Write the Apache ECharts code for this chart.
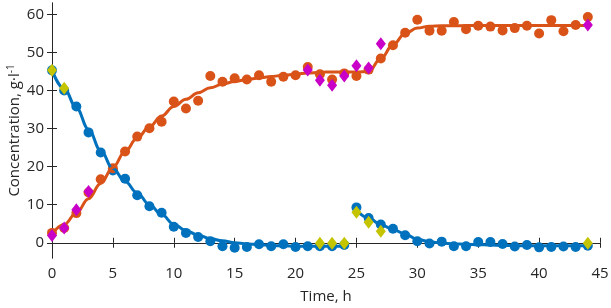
<!DOCTYPE html>
<html>
<head>
<meta charset="utf-8">
<script src="https://cdn.jsdelivr.net/npm/echarts@6/dist/echarts.min.js"></script>
<style>
  html, body { margin: 0; padding: 0; background: #fff; }
  #main { width: 611px; height: 308px; }
</style>
</head>
<body>
<div id="main"></div>
<script>
// measured points, hours
const hours1 = [0,1,2,3,4,5,6,7,8,9,10,11,12,13,14,15,16,17,18,19,20,21,22,23,24];
const hours2 = [25,26,27,28,29,30,31,32,33,34,35,36,37,38,39,40,41,42,43,44];
const hoursAll = hours1.concat(hours2);

// substrate (blue circles)
const substrate1 = [45.3,40.0,35.8,29.0,23.7,19.0,16.8,12.5,9.6,7.9,4.2,2.6,1.5,0.4,-0.9,-1.3,-1.1,-0.4,-0.9,-0.4,-1.1,-0.9,-0.9,-0.9,-0.6];
const substrate2 = [9.3,6.5,4.8,3.7,2.0,0.4,-0.2,0.3,-0.9,-0.9,0.2,0.2,-0.3,-1.0,-0.6,-1.2,-1.1,-1.0,-1.1,-0.8];

// product (orange circles)
const product = [2.6,3.9,7.8,13.2,16.7,19.6,24.0,27.9,30.1,31.8,37.1,35.3,37.3,43.8,42.3,43.2,42.9,44.0,42.3,43.6,44.0,46.2,44.3,42.9,44.5,43.8,45.5,48.4,51.9,55.2,58.6,55.7,55.7,58.0,56.1,57.0,56.8,55.8,56.4,57.0,55.0,58.5,55.6,57.2,59.3];

// fitted curves
const substrateFit1 = [45.3,40.5,35.5,29.8,24.2,19.5,16.1,13.1,10.0,7.4,4.9,3.2,2.0,1.1,0.5,0.0,-0.3,-0.5,-0.7,-0.8,-0.9,-0.9,-0.9,-0.9,-0.9];
const substrateFit2 = [8.6,6.5,4.8,3.5,2.3,0.9,0.3,-0.1,-0.3,-0.4,-0.5,-0.6,-0.7,-0.7,-0.8,-0.8,-0.8,-0.8,-0.8,-0.8];
const productFit = [2.3,4.8,7.8,11.6,15.6,19.8,24.0,27.5,30.5,33.3,35.8,37.7,39.4,40.7,41.7,42.4,42.9,43.3,43.7,44.0,44.3,44.6,44.8,44.9,44.9,44.9,45.0,48.4,52.0,55.0,56.4,56.9,57.0,57.0,57.1,57.1,57.1,57.1,57.1,57.1,57.1,57.1,57.1,57.1,57.1];

// second set of measurements (diamonds)
const productCheckHours = [0,1,2,3,21,22,23,24,25,26,27,44];
const productCheck = [1.9,3.9,8.7,13.5,45.4,42.7,41.4,43.8,46.5,45.9,52.3,57.2];
const substrateCheckHours = [0,1,22,23,24,25,26,27,44];
const substrateCheck = [45.3,40.6,-0.1,-0.1,-0.1,8.0,5.4,3.0,-0.1];

const yTicks = [0,10,20,30,40,50,60];

const blue = '#0072BD';
const orange = '#D95319';
const magenta = '#C800C8';
const olive = '#C4C400';
const axisColor = '#262626';
const font = 'Open Sans';

function pairs(xs, ys) {
    return xs.map((x, i) => [x, ys[i]]);
}

let myChart = echarts.init(document.getElementById('main'));

let option = {
    animation: false,
    grid: { left: 52, right: 11, top: 3, bottom: 50, outerBoundsMode: 'none', containLabel: false },
    xAxis: [
        {
            type: 'value', min: 0, max: 45, interval: 5,
            name: 'Time, h', nameLocation: 'middle', nameGap: 31, nameMoveOverlap: false,
            nameTextStyle: { fontFamily: font, fontSize: 15, color: axisColor },
            axisLine: { lineStyle: { color: axisColor, width: 1 } },
            axisTick: { inside: true, length: 5, lineStyle: { color: axisColor } },
            axisLabel: { fontFamily: font, fontSize: 15, color: axisColor, margin: 8 },
            splitLine: { show: false }
        },
        {
            type: 'value', min: 0, max: 45, interval: 5, position: 'top',
            axisLine: { lineStyle: { color: axisColor, width: 1 } },
            axisTick: { inside: true, length: 5, lineStyle: { color: axisColor } },
            axisLabel: { show: false },
            splitLine: { show: false }
        }
    ],
    yAxis: [
        {
            type: 'value', min: -4, max: 63,
            name: '{n|Concentration, g·l}{s|-1}', nameLocation: 'middle', nameGap: 28, nameMoveOverlap: false,
            nameTextStyle: {
                rich: {
                    n: { fontFamily: font, fontSize: 15, color: axisColor },
                    s: { fontFamily: font, fontSize: 10, color: axisColor, verticalAlign: 'top', padding: [0, 0, 8, 0] }
                }
            },
            axisLine: { lineStyle: { color: axisColor, width: 1 } },
            axisTick: { inside: true, length: 5, customValues: yTicks, lineStyle: { color: axisColor } },
            axisLabel: { fontFamily: font, fontSize: 15, color: axisColor, margin: 8, customValues: yTicks },
            splitLine: { show: false }
        },
        {
            type: 'value', min: -4, max: 63, position: 'right',
            axisLine: { show: true, lineStyle: { color: axisColor, width: 1 } },
            axisTick: { show: true, inside: true, length: 5, customValues: yTicks, lineStyle: { color: axisColor } },
            axisLabel: { show: false },
            splitLine: { show: false }
        }
    ],
    series: [
        {
            type: 'scatter', data: pairs(hours1, substrate1), symbol: 'circle', symbolSize: 10,
            itemStyle: { color: blue, opacity: 1 }, z: 2
        },
        {
            type: 'scatter', data: pairs(hours2, substrate2), symbol: 'circle', symbolSize: 10,
            itemStyle: { color: blue, opacity: 1 }, z: 2
        },
        {
            type: 'scatter', data: pairs(hoursAll, product), symbol: 'circle', symbolSize: 10,
            itemStyle: { color: orange, opacity: 1 }, z: 2
        },
        {
            type: 'line', data: pairs(hours1, substrateFit1), showSymbol: false, smooth: 0.4, smoothMonotone: 'x',
            lineStyle: { color: blue, width: 3 }, z: 3
        },
        {
            type: 'line', data: pairs(hours2, substrateFit2), showSymbol: false, smooth: 0.4, smoothMonotone: 'x',
            lineStyle: { color: blue, width: 3 }, z: 3
        },
        {
            type: 'line', data: pairs(hoursAll, productFit), showSymbol: false, smooth: 0.4, smoothMonotone: 'x',
            lineStyle: { color: orange, width: 3 }, z: 3
        },
        {
            type: 'scatter', data: pairs(productCheckHours, productCheck), symbol: 'diamond', symbolSize: [10, 13],
            itemStyle: { color: magenta, opacity: 1 }, z: 4
        },
        {
            type: 'scatter', data: pairs(substrateCheckHours, substrateCheck), symbol: 'diamond', symbolSize: [10, 13],
            itemStyle: { color: olive, opacity: 1 }, z: 4
        }
    ]
};

myChart.setOption(option);
</script>
</body>
</html>
